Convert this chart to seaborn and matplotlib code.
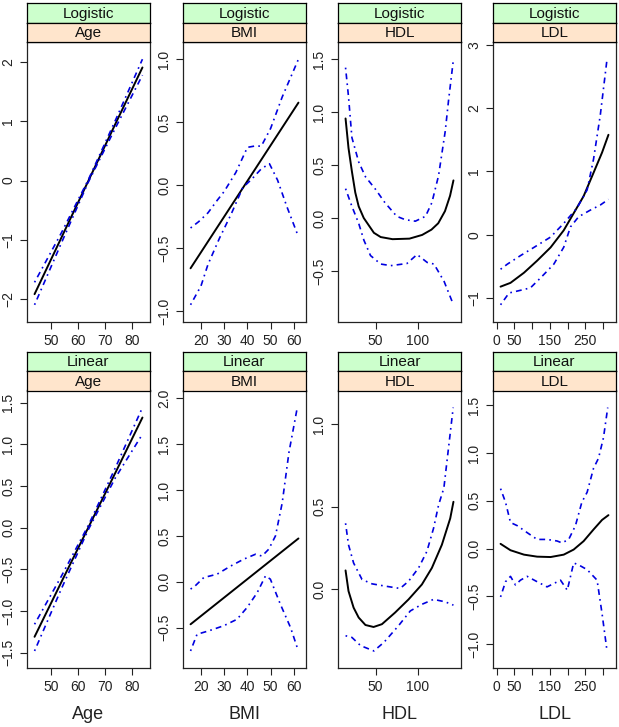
import matplotlib.pyplot as plt
import seaborn as sns

sns.set_style("ticks")
plt.rcParams['font.family'] = ['Liberation Sans', 'DejaVu Sans']

models = ["Logistic", "Linear"]
variables = ["Age", "BMI", "HDL", "LDL"]

# ---- Logistic model: fitted effect (solid) and pointwise bands (dot-dash)
log_age_x = [44, 54, 64, 74, 84]
log_age_fit = [-1.92, -0.96, 0.0, 0.96, 1.91]
log_age_up = [-1.72, -0.88, 0.02, 1.02, 2.05]
log_age_lo = [-2.10, -1.05, -0.02, 0.89, 1.78]

log_bmi_x = [15.5, 62]
log_bmi_fit = [-0.66, 0.655]
log_bmi_up_x = [15.5, 19, 23, 27, 30, 35, 40, 43, 46, 50, 55, 62]
log_bmi_up = [-0.34, -0.29, -0.22, -0.12, -0.05, 0.10, 0.30, 0.31, 0.31, 0.45, 0.70, 1.0]
log_bmi_lo_x = [15.5, 20, 23, 28, 33, 38, 42, 46, 49.5, 53, 57, 62]
log_bmi_lo = [-0.95, -0.80, -0.63, -0.42, -0.23, -0.02, 0.05, 0.13, 0.17, 0.04, -0.17, -0.41]

log_hdl_x = [14.5, 18, 22, 26, 30, 36, 42, 48, 56, 70, 90, 105, 116, 124, 132, 138, 142]
log_hdl_fit = [0.94, 0.66, 0.44, 0.24, 0.11, 0.0, -0.07, -0.14, -0.18, -0.20, -0.195, -0.16, -0.11, -0.05, 0.065, 0.21, 0.355]
log_hdl_up_x = [14.5, 18, 22, 30, 38, 50, 61, 75, 85, 97, 109, 116.5, 124.4, 132.3, 136.2, 142]
log_hdl_up = [1.42, 1.145, 0.76, 0.53, 0.39, 0.27, 0.145, 0.016, -0.016, -0.03, 0.016, 0.145, 0.40, 0.82, 1.11, 1.5]
log_hdl_lo_x = [14.5, 22, 30, 36.2, 44, 56, 68, 87, 99, 111, 119, 131, 142]
log_hdl_lo = [0.277, 0.11, -0.05, -0.21, -0.355, -0.435, -0.45, -0.43, -0.345, -0.42, -0.435, -0.60, -0.82]

log_ldl_x = [11, 39, 77, 114, 152, 189, 217, 245, 273, 297, 315]
log_ldl_fit = [-0.82, -0.76, -0.60, -0.41, -0.20, 0.07, 0.34, 0.61, 0.98, 1.30, 1.58]
log_ldl_up_x = [11, 30, 67, 105, 152, 189, 226, 255, 273, 292, 311]
log_ldl_up = [-0.545, -0.465, -0.33, -0.20, -0.036, 0.18, 0.42, 0.71, 1.195, 1.89, 2.775]
log_ldl_lo_x = [11, 35, 58, 95, 124, 161, 189, 208, 231, 264, 292, 315]
log_ldl_lo = [-1.107, -0.92, -0.89, -0.84, -0.68, -0.465, -0.197, 0.124, 0.285, 0.39, 0.47, 0.56]

# ---- Linear model
lin_age_x = [44, 54, 64, 74, 84]
lin_age_fit = [-1.31, -0.65, 0.005, 0.66, 1.32]
lin_age_up = [-1.16, -0.58, 0.03, 0.72, 1.44]
lin_age_lo = [-1.48, -0.73, -0.02, 0.60, 1.12]

lin_bmi_x = [15.5, 62]
lin_bmi_fit = [-0.464, 0.472]
lin_bmi_up_x = [15.5, 17.5, 21.2, 26.9, 32.7, 38.4, 43.5, 46.3, 49.2, 52.1, 55, 57.9, 61.5]
lin_bmi_up = [-0.08, -0.045, 0.046, 0.082, 0.17, 0.246, 0.30, 0.28, 0.355, 0.50, 0.86, 1.41, 1.90]
lin_bmi_lo_x = [15.5, 18.3, 23.3, 29.8, 35.5, 39.9, 44.2, 47.8, 49.9, 54.2, 58.6, 61.5]
lin_bmi_lo = [-0.755, -0.573, -0.536, -0.48, -0.41, -0.28, -0.12, 0.064, 0.028, -0.245, -0.50, -0.72]

lin_hdl_x = [14.5, 18, 24, 30, 38, 47.6, 57.5, 73, 89, 104.7, 116.5, 128.3, 138.2, 142]
lin_hdl_fit = [0.115, -0.01, -0.11, -0.17, -0.215, -0.227, -0.21, -0.14, -0.06, 0.03, 0.13, 0.27, 0.43, 0.53]
lin_hdl_up_x = [14.5, 18, 24, 34, 45.7, 61.4, 79, 89, 100.8, 110.6, 118.5, 124.4, 130.7, 141.7]
lin_hdl_up = [0.40, 0.27, 0.16, 0.06, 0.034, 0.02, 0.006, 0.05, 0.13, 0.23, 0.37, 0.51, 0.614, 1.10]
lin_hdl_lo_x = [14.5, 22, 32.3, 48, 59.8, 65, 77, 91, 104.7, 118.5, 132.3, 142]
lin_hdl_lo = [-0.28, -0.29, -0.34, -0.372, -0.32, -0.29, -0.22, -0.13, -0.09, -0.06, -0.075, -0.095]

lin_ldl_x = [11, 39, 77, 114, 152, 189, 217, 245, 273, 297, 315]
lin_ldl_fit = [0.05, -0.017, -0.063, -0.084, -0.088, -0.063, -0.01, 0.078, 0.20, 0.30, 0.35]
lin_ldl_up_x = [11, 25, 39, 58, 86, 114, 142, 170, 184, 203, 222, 240, 255, 273, 287, 301, 313]
lin_ldl_up = [0.627, 0.485, 0.273, 0.24, 0.167, 0.096, 0.096, 0.08, 0.06, 0.096, 0.24, 0.485, 0.59, 0.84, 0.945, 1.16, 1.475]
lin_ldl_lo_x = [11, 25, 39, 53, 67, 86, 114, 142, 161, 180, 199, 217, 231, 255, 283, 297, 311]
lin_ldl_lo = [-0.505, -0.346, -0.29, -0.38, -0.33, -0.29, -0.346, -0.40, -0.365, -0.33, -0.435, -0.15, -0.17, -0.22, -0.33, -0.68, -1.07]

# tick positions
xticks = {"Age": [50, 60, 70, 80], "BMI": [20, 30, 40, 50, 60],
          "HDL": [50, 100], "LDL": [0, 50, 100, 150, 200, 250, 300]}
xticklabels = {"LDL": ["0", "50", "", "150", "", "250", ""]}
yticks = {
    ("Logistic", "Age"): ([-2, -1, 0, 1, 2], 0),
    ("Logistic", "BMI"): ([-1.0, -0.5, 0.0, 0.5, 1.0], 1),
    ("Logistic", "HDL"): ([-0.5, 0.0, 0.5, 1.0, 1.5], 1),
    ("Logistic", "LDL"): ([-1, 0, 1, 2, 3], 0),
    ("Linear", "Age"): ([-1.5, -1.0, -0.5, 0.0, 0.5, 1.0, 1.5], 1),
    ("Linear", "BMI"): ([-0.5, 0.0, 0.5, 1.0, 1.5, 2.0], 1),
    ("Linear", "HDL"): ([0.0, 0.5, 1.0], 1),
    ("Linear", "LDL"): ([-1.0, -0.5, 0.0, 0.5, 1.0, 1.5], 1),
}

curves = {
    ("Logistic", "Age"): [(log_age_x, log_age_fit), (log_age_x, log_age_up), (log_age_x, log_age_lo)],
    ("Logistic", "BMI"): [(log_bmi_x, log_bmi_fit), (log_bmi_up_x, log_bmi_up), (log_bmi_lo_x, log_bmi_lo)],
    ("Logistic", "HDL"): [(log_hdl_x, log_hdl_fit), (log_hdl_up_x, log_hdl_up), (log_hdl_lo_x, log_hdl_lo)],
    ("Logistic", "LDL"): [(log_ldl_x, log_ldl_fit), (log_ldl_up_x, log_ldl_up), (log_ldl_lo_x, log_ldl_lo)],
    ("Linear", "Age"): [(lin_age_x, lin_age_fit), (lin_age_x, lin_age_up), (lin_age_x, lin_age_lo)],
    ("Linear", "BMI"): [(lin_bmi_x, lin_bmi_fit), (lin_bmi_up_x, lin_bmi_up), (lin_bmi_lo_x, lin_bmi_lo)],
    ("Linear", "HDL"): [(lin_hdl_x, lin_hdl_fit), (lin_hdl_up_x, lin_hdl_up), (lin_hdl_lo_x, lin_hdl_lo)],
    ("Linear", "LDL"): [(lin_ldl_x, lin_ldl_fit), (lin_ldl_up_x, lin_ldl_up), (lin_ldl_lo_x, lin_ldl_lo)],
}

W, H = 619, 727
fig = plt.figure(figsize=(W / 100, H / 100), dpi=100)


def rect(x0, y0, x1, y1):
    return [x0 / W, 1 - y1 / H, (x1 - x0) / W, (y1 - y0) / H]


col_x = [27, 183, 338, 493]
pw = 123
rows = {"Logistic": (3, 22.5, 42, 322), "Linear": (352, 371, 390.5, 668)}
edge = "#222222"


def fmt(v, dec):
    return f"{v:.{dec}f}".replace("-", "\u2212")


for model in models:
    g0, g1, p1, bottom = rows[model]
    for j, var in enumerate(variables):
        x0 = col_x[j]
        ax = fig.add_axes(rect(x0, p1, x0 + pw, bottom))
        for k, (xs, ys) in enumerate(curves[(model, var)]):
            if k == 0:
                sns.lineplot(x=xs, y=ys, ax=ax, color="black", linewidth=1.4,
                             estimator=None, sort=False, legend=False)
            else:
                sns.lineplot(x=xs, y=ys, ax=ax, color="#0000E0", linewidth=1.2,
                             linestyle=(0, (1, 2.5, 3.5, 2.5)),
                             estimator=None, sort=False, legend=False)
        allx = [v for xs, _ in curves[(model, var)] for v in xs]
        ally = [v for _, ys in curves[(model, var)] for v in ys]
        dx = (max(allx) - min(allx)) * 0.07
        dy = (max(ally) - min(ally)) * 0.07
        ax.set_xlim(min(allx) - dx, max(allx) + dx)
        ax.set_ylim(min(ally) - dy, max(ally) + dy)

        ax.set_xticks(xticks[var])
        ax.set_xticklabels(xticklabels.get(var, [str(t) for t in xticks[var]]))
        yt, dec = yticks[(model, var)]
        ax.set_yticks(yt)
        ax.set_yticklabels([fmt(v, dec) for v in yt], rotation=90, va="center")
        ax.tick_params(direction="out", length=5, width=0.8, pad=3.5,
                       labelsize=10, colors=edge)
        for sp in ax.spines.values():
            sp.set_color(edge)
            sp.set_linewidth(0.9)
        ax.set_xlabel("")
        ax.set_ylabel("")
        if model == "Linear":
            ax.set_xlabel(var, fontsize=13, color=edge, labelpad=9)

        # strips
        for (s0, s1, label, col) in [(g0, g1, model, "#CCFFCC"), (g1, p1, var, "#FFE5CC")]:
            sax = fig.add_axes(rect(x0, s0, x0 + pw, s1))
            sax.set_facecolor(col)
            sax.set_xticks([])
            sax.set_yticks([])
            for sp in sax.spines.values():
                sp.set_color("black")
                sp.set_linewidth(0.9)
            sax.text(0.5, 0.45, label, ha="center", va="center", fontsize=11,
                     color="#111111", transform=sax.transAxes)

fig.savefig("out.png", dpi=100)
